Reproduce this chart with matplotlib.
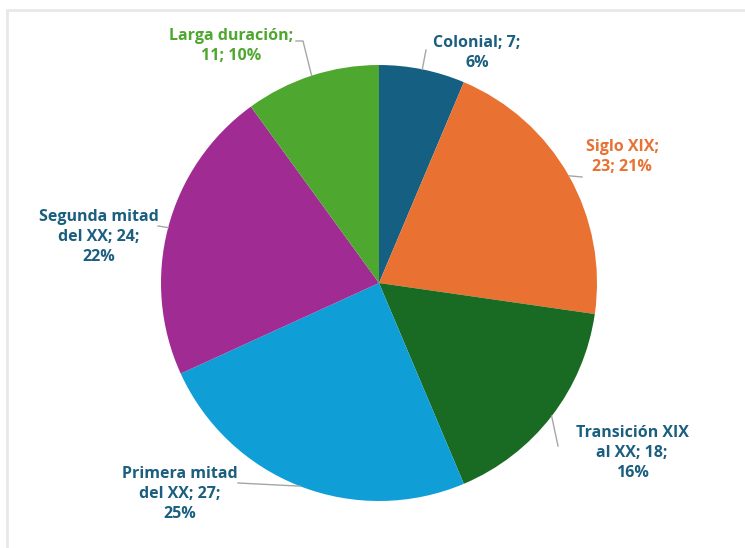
import numpy as np
import matplotlib.pyplot as plt
from matplotlib.patches import Rectangle

# data
categories = ['Colonial', 'Siglo XIX', 'Transición XIX al XX', 'Primera mitad del XX',
              'Segunda mitad del XX', 'Larga duración']
values = [7, 23, 18, 27, 24, 11]
label_text = ['Colonial; 7;\n6%', 'Siglo XIX;\n23; 21%', 'Transición XIX\nal XX; 18;\n16%',
              'Primera mitad\ndel XX; 27;\n25%', 'Segunda mitad\ndel XX; 24;\n22%',
              'Larga duración;\n11; 10%']

colors = ['#156082', '#E97132', '#196B24', '#0F9ED5', '#A02B93', '#4EA72E']
text_colors = ['#1B5F80', '#E97132', '#1B5F80', '#1B5F80', '#1B5F80', '#4EA72E']

W, H = 745, 548
# label centres and leader end points in pixel coords (from top-left)
label_pos = [(477, 53), (622, 157), (632, 453), (180, 494), (99, 237), (231, 46)]
leader_end = [[(426, 50)], [(582, 177)], [(558, 446)], [(238, 483)], [(158, 226)],
              [(303, 41), (296, 41)]]

fig = plt.figure(figsize=(W / 100, H / 100), dpi=100)
ax = fig.add_axes([0, 0, 1, 1])

# light chart frame (right and bottom edges fall outside the picture)
fig.patches.append(Rectangle((7 / W, -0.1), 1.2, 1.1 - 10 / H, transform=fig.transFigure,
                             fill=False, edgecolor='#e8e8e8', linewidth=2))

cx, cy, r = 379, H - 283, 218
wedges, _ = ax.pie(values, colors=colors, startangle=90, counterclock=False,
                   center=(cx, cy), radius=r, frame=True)
ax.set_xlim(0, W)
ax.set_ylim(0, H)
ax.set_aspect('equal')
ax.axis('off')

for w, txt, tc, (lx, ly), ends in zip(wedges, label_text, text_colors, label_pos, leader_end):
    mid = np.deg2rad((w.theta1 + w.theta2) / 2)
    xs = [cx + r * np.cos(mid)] + [p[0] for p in ends]
    ys = [cy + r * np.sin(mid)] + [H - p[1] for p in ends]
    ax.plot(xs, ys, color='#a6a6a6', lw=1)
    ax.text(lx, H - ly, txt, ha='center', va='center', color=tc, fontsize=11.5,
            fontweight='bold', family=['Open Sans', 'DejaVu Sans'], linespacing=1.3)

fig.savefig('out.png', dpi=100)
